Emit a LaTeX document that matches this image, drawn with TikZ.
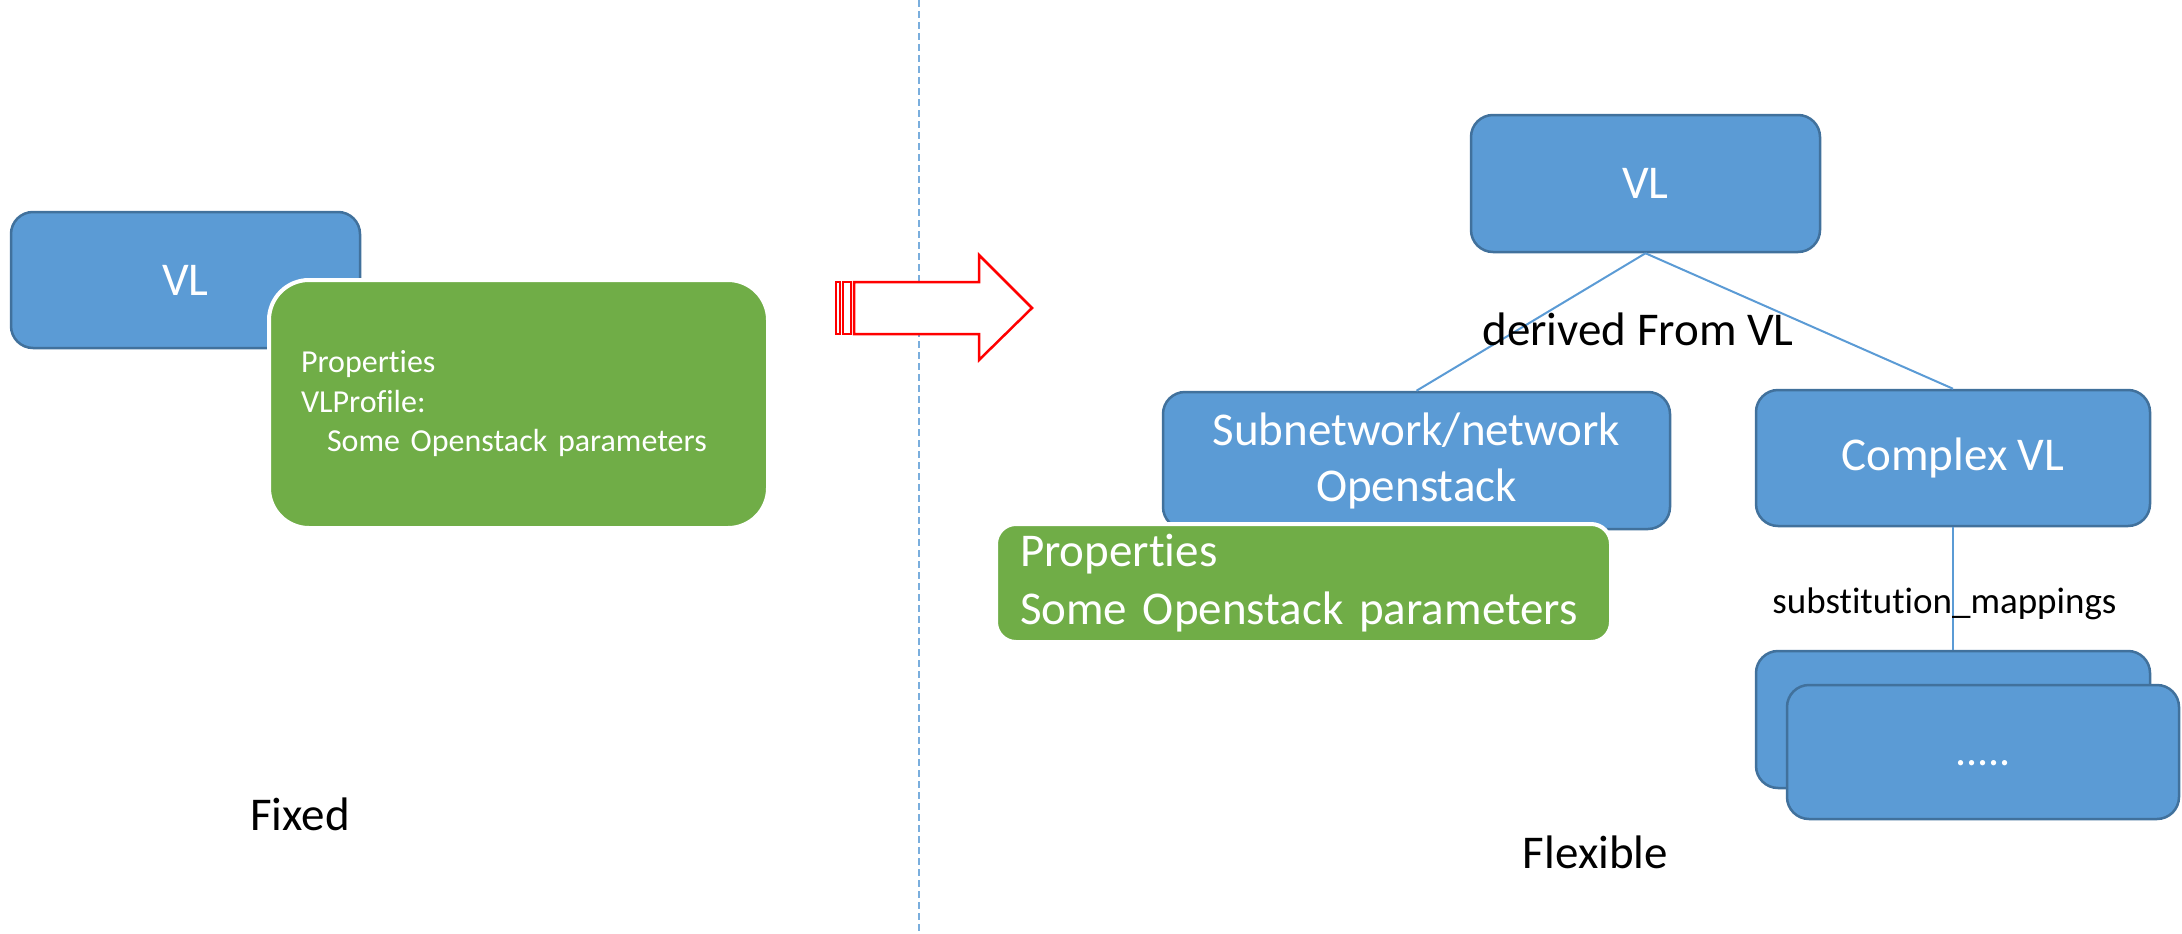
\documentclass[tikz,border=0pt]{standalone}
\usepackage{fontspec}
\setmainfont{Carlito}[Ligatures={NoCommon,NoRare,NoContextual},RawFeature={-ccmp}]
\definecolor{boxblue}{HTML}{5B9BD5}
\definecolor{boxline}{HTML}{41719C}
\definecolor{boxgreen}{HTML}{70AD47}
\definecolor{dashblue}{HTML}{7AAEDD}
\definecolor{arrowred}{HTML}{FF0000}
\tikzset{
  bluebox/.style={draw=boxline, fill=boxblue, line width=2.5pt, rounded corners=22pt,
    text=white, font=\fontsize{47}{56}\selectfont, align=center, inner sep=0pt},
  greenbox/.style={draw=white, fill=boxgreen, line width=4pt, text=white, inner sep=0pt, align=left},
  lbl/.style={text=black, inner sep=0pt, font=\fontsize{47}{56}\selectfont},
  link/.style={draw=boxblue, line width=2pt}
}
\begin{document}
\begin{tikzpicture}[x=1pt, y=-1pt]
\useasboundingbox (0,0) rectangle (2182,934);
% separator
\draw[dashblue, line width=2pt, dash pattern=on 7pt off 4pt] (918.7,0) -- (918.7,934);
% left side
\node[bluebox, minimum width=349pt, minimum height=136pt] (vlA) at (185.5,280) {VL};
\node[greenbox, minimum width=499pt, minimum height=248pt, rounded corners=40pt,
  text width=435pt, font=\fontsize{32}{39.5}\selectfont] (propA) at (518.5,404)
  {Propert\kern0pt ies\\VLProfile:\\\hspace*{26pt}Some Openstack parameters};
\node[lbl] (fixed) at (300,814) {Fixed};
% red striped arrow
\draw[arrowred, line width=2.5pt, fill=white] (836,282) rectangle (840,334);
\draw[arrowred, line width=2.5pt, fill=white] (843,282) rectangle (851,334);
\draw[arrowred, line width=2.5pt, fill=white, line join=miter]
  (854,282) -- (979,282) -- (979,255) -- (1032,308) -- (979,360) -- (979,334) -- (854,334) -- cycle;
% right side
\coordinate (vlBpos) at (1645.5,183.5);
\node[bluebox, minimum width=349pt, minimum height=137pt] (vlB) at (vlBpos) {VL};
\node[bluebox, minimum width=507pt, minimum height=137pt] (sub) at (1416.5,460.5) {Subnetwork/network\\Openstack};
\node[bluebox, minimum width=394pt, minimum height=136pt] (cvl) at (1953,458) {Complex VL};
\draw[link] (vlB.south) -- (sub.north);
\draw[link] (vlB.south) -- (cvl.north);
\node[greenbox, minimum width=615pt, minimum height=118pt, rounded corners=20pt,
  text width=567pt, font=\fontsize{47}{58}\selectfont] (propB) at (1303.5,583)
  {Propert\kern0pt ies\\Some Openstack parameters};
\node[bluebox, minimum width=394pt, minimum height=137pt] (back) at (1953,719.5) {};
\draw[link] (cvl.south) -- (back.north);
\node[bluebox, minimum width=392pt, minimum height=134pt, font=\fontsize{44}{52}\selectfont] (front) at (1983,752) {\vphantom{L}.....};
\node[lbl] (derived) at (1638,329) {derived From VL};
\node[lbl, font=\fontsize{37}{44}\selectfont] (subst) at (1944.5,604) {subst\kern0pt it\kern0pt ut\kern0pt ion\_mappings};
\node[lbl] (flex) at (1595.5,852) {Flexible};
\end{tikzpicture}
\end{document}
